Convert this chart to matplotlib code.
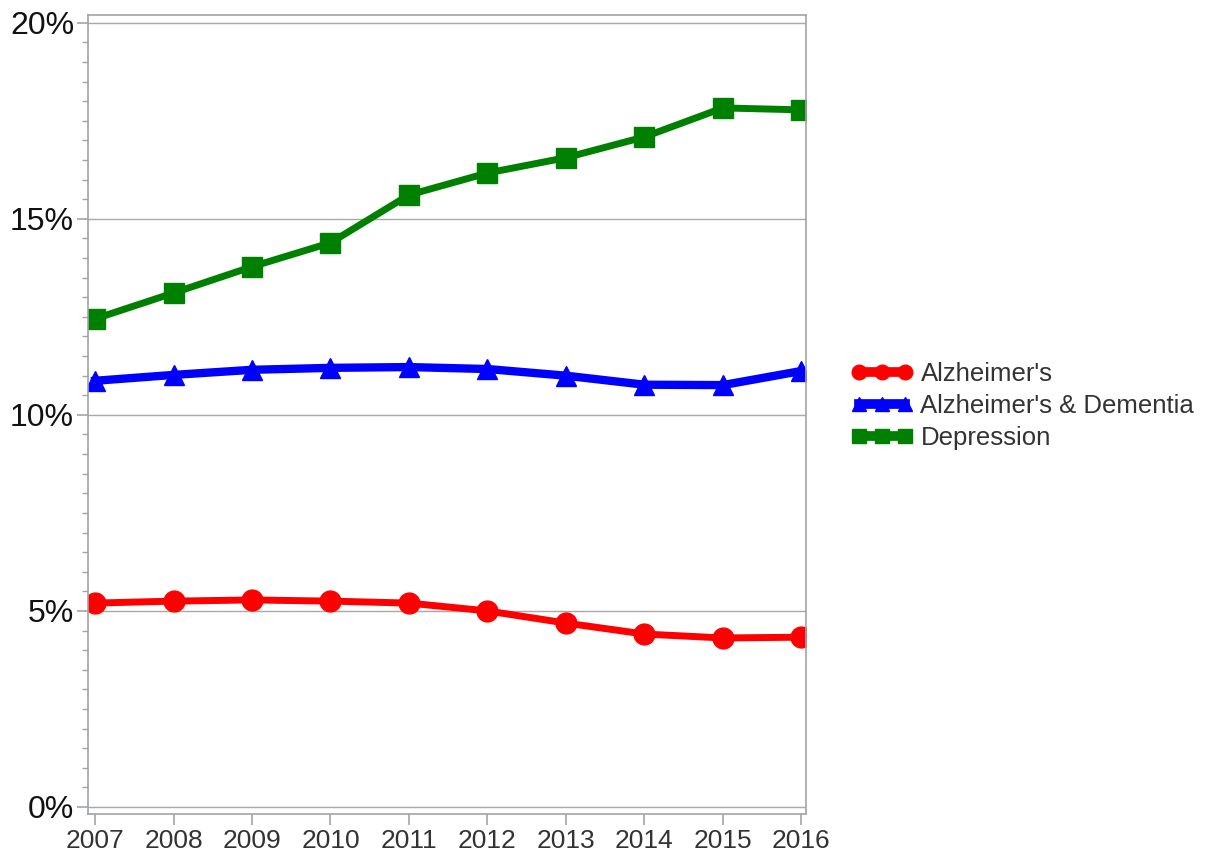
import matplotlib
matplotlib.use('Agg')
import matplotlib.pyplot as plt
from matplotlib.ticker import MultipleLocator, FuncFormatter

years = [2007, 2008, 2009, 2010, 2011, 2012, 2013, 2014, 2015, 2016]
alzheimers = [5.20, 5.25, 5.28, 5.25, 5.20, 5.00, 4.69, 4.41, 4.31, 4.33]
alz_dementia = [10.87, 11.02, 11.15, 11.20, 11.22, 11.17, 11.00, 10.77, 10.76, 11.12]
depression = [12.45, 13.11, 13.78, 14.39, 15.61, 16.17, 16.56, 17.09, 17.83, 17.78]

plt.rcParams['font.family'] = ['Liberation Sans', 'DejaVu Sans']

fig = plt.figure(figsize=(12.08, 8.57), dpi=100)
ax = fig.add_axes([88 / 1208, 1 - 814 / 857, (806 - 88) / 1208, (814 - 15) / 857])

ax.plot(years, alzheimers, color='#ff0000', lw=5, marker='o', ms=15, label="Alzheimer's")
ax.plot(years, alz_dementia, color='#0000ff', lw=6, marker='^', ms=14, label="Alzheimer's & Dementia")
ax.plot(years, depression, color='#008000', lw=5, marker='s', ms=14, label='Depression')

ax.set_xlim(2006.91, 2016.06)
ax.set_ylim(-0.18, 20.2)
ax.set_xticks(years)
ax.yaxis.set_major_locator(MultipleLocator(5))
ax.yaxis.set_minor_locator(MultipleLocator(0.5))
ax.yaxis.set_major_formatter(FuncFormatter(lambda v, p: f'{v:.0f}%'))
ax.grid(axis='y', which='major', color='#a8a8a8', lw=1)
ax.set_axisbelow(True)

for s in ax.spines.values():
    s.set_color('#a0a4a8')
    s.set_linewidth(1.2)
ax.tick_params(axis='both', which='major', color='#a0a4a8', length=8, width=1.2)
ax.tick_params(axis='y', which='minor', color='#a0a4a8', length=4, width=1)
ax.tick_params(axis='x', labelsize=19, labelcolor='#333333', pad=3)
ax.tick_params(axis='y', labelsize=23, labelcolor='#111111', pad=2)

leg = fig.legend(loc='center left', bbox_to_anchor=(828 / 1208, 1 - 406 / 857), frameon=False,
                 fontsize=18.5, numpoints=3, handlelength=2.4, handletextpad=0.3,
                 labelspacing=0.3, markerscale=0.7)
for t in leg.get_texts():
    t.set_color('#333333')
for h in leg.legend_handles:
    h.set_linewidth(7)

fig.savefig('out.png', dpi=100)
